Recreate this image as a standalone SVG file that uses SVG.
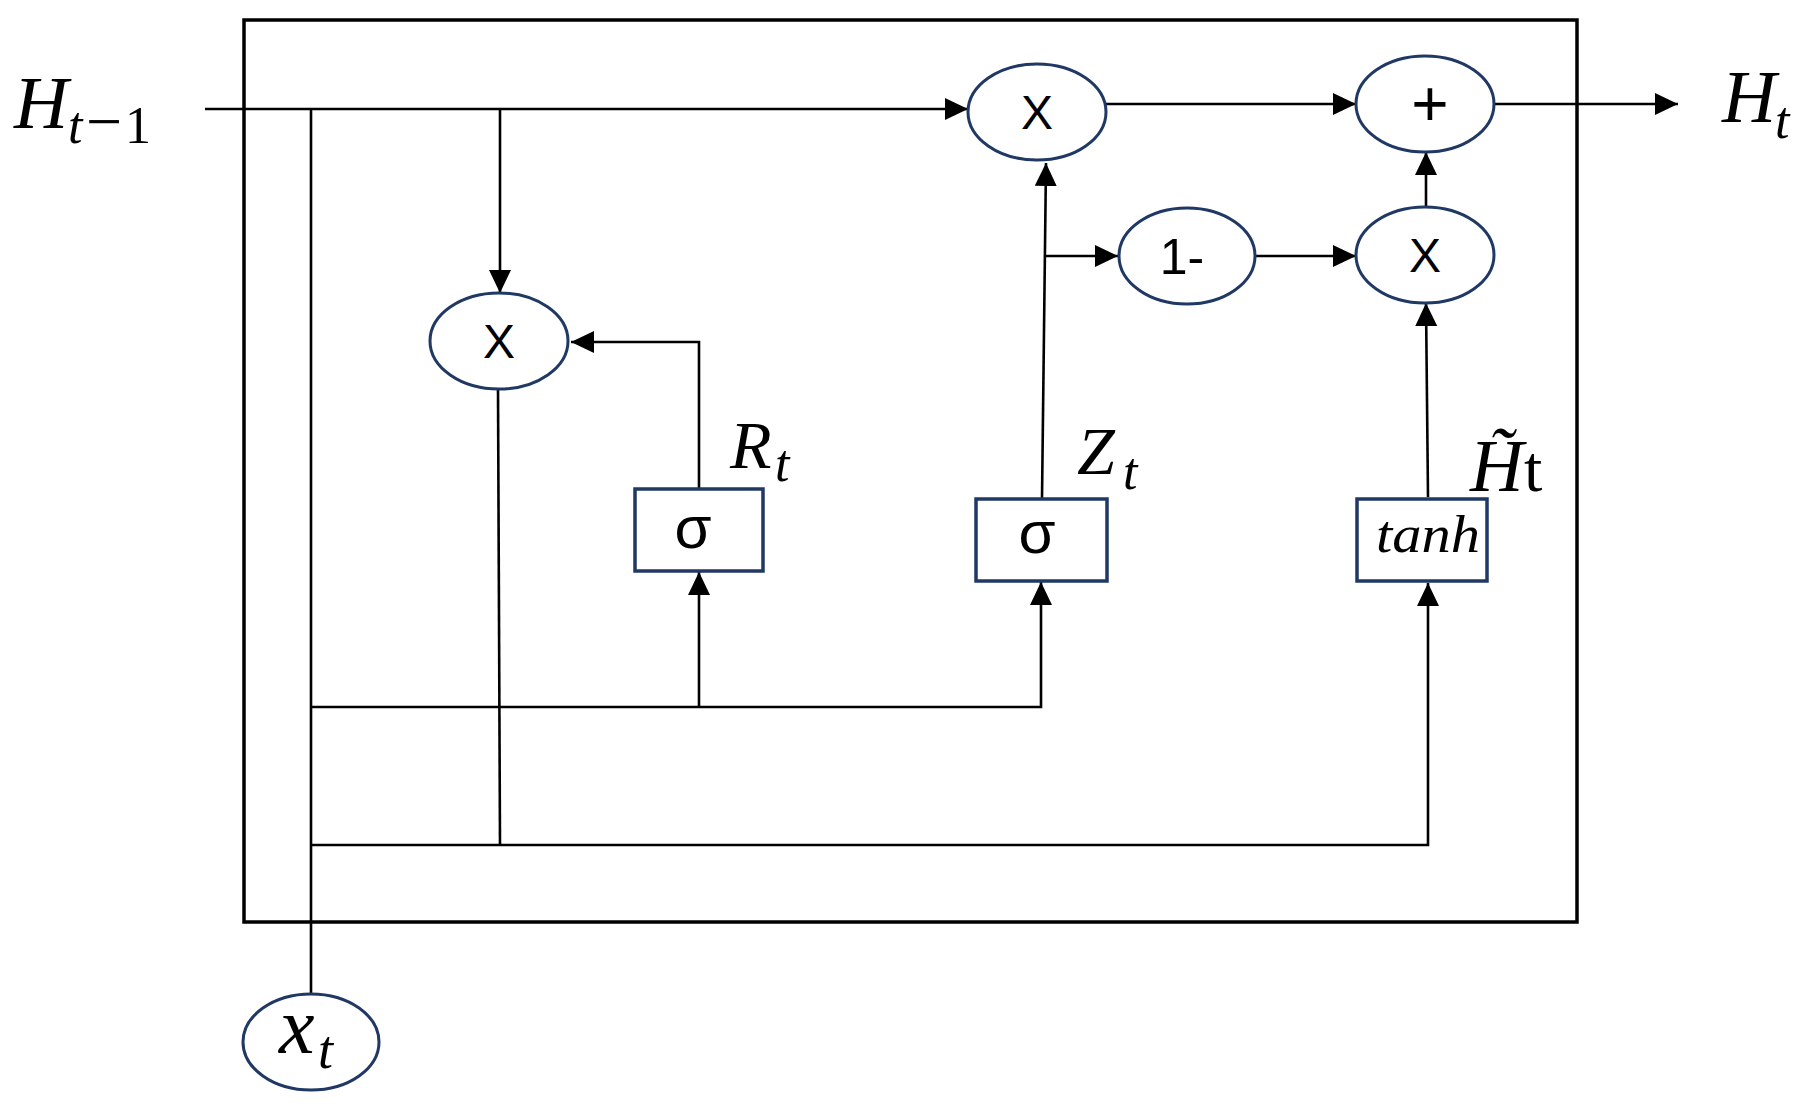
<svg xmlns="http://www.w3.org/2000/svg" width="1807" height="1104" viewBox="0 0 1807 1104">
<style>
.op{fill:#fff;stroke:#1f3864;stroke-width:3}
.bx{fill:#fff;stroke:#1f3864;stroke-width:3.5}
.ln{fill:none;stroke:#000;stroke-width:2.6}
.sym{font-family:"Liberation Sans","Noto Sans",sans-serif;fill:#000;text-anchor:middle}
.sig{font-family:"Liberation Sans","Noto Sans",sans-serif;font-size:60px;fill:#000;text-anchor:middle}
.math{font-family:"Liberation Serif","DejaVu Serif",serif;font-style:italic;fill:#000}
.up{font-family:"Liberation Serif","DejaVu Serif",serif;font-style:normal;fill:#000}
</style>
<defs>
<marker id="ar" markerUnits="userSpaceOnUse" markerWidth="26" markerHeight="24" refX="23" refY="11" orient="auto">
<path d="M0,0 L23,11 L0,22 Z" fill="#000"/>
</marker>
</defs>
<rect id="frame" x="244" y="20" width="1333" height="902" fill="none" stroke="#000" stroke-width="3.5"/>
<g id="connectors">
<path class="ln" d="M205,109 L968,109" marker-end="url(#ar)"/>
<path class="ln" d="M1106,104 L1356,104" marker-end="url(#ar)"/>
<path class="ln" d="M1494,104 L1678,104" marker-end="url(#ar)"/>
<path class="ln" d="M311,109 L311,993"/>
<path class="ln" d="M500,109 L500,293" marker-end="url(#ar)"/>
<path class="ln" d="M699,489 L699,342 L571,342" marker-end="url(#ar)"/>
<path class="ln" d="M498,389 L500,845"/>
<path class="ln" d="M1042,499 L1046,163" marker-end="url(#ar)"/>
<path class="ln" d="M1044,256 L1118,256" marker-end="url(#ar)"/>
<path class="ln" d="M1255,256 L1356,256" marker-end="url(#ar)"/>
<path class="ln" d="M1426,207 L1426,152" marker-end="url(#ar)"/>
<path class="ln" d="M1428,497 L1426,303" marker-end="url(#ar)"/>
<path class="ln" d="M311,707 L1041,707 L1041,582" marker-end="url(#ar)"/>
<path class="ln" d="M699,707 L699,572" marker-end="url(#ar)"/>
<path class="ln" d="M311,845 L1428,845 L1428,583" marker-end="url(#ar)"/>
</g>
<g id="mul_top">
<ellipse class="op" cx="1037" cy="112" rx="69" ry="48"/>
<text class="sym" x="1037" y="129" style="font-size:48px">X</text>
</g>
<g id="add">
<ellipse class="op" cx="1425" cy="104" rx="69" ry="48"/>
<text class="sym" x="1430" y="126" style="font-size:64px">+</text>
</g>
<g id="one_minus">
<ellipse class="op" cx="1187" cy="256" rx="68" ry="48"/>
<text class="sym" x="1182" y="274" style="font-size:50px">1-</text>
</g>
<g id="mul_right">
<ellipse class="op" cx="1425" cy="255" rx="69" ry="48"/>
<text class="sym" x="1425" y="272" style="font-size:48px">X</text>
</g>
<g id="mul_left">
<ellipse class="op" cx="499" cy="341" rx="69" ry="48"/>
<text class="sym" x="499" y="358" style="font-size:48px">X</text>
</g>
<g id="sigma_r">
<rect class="bx" x="635" y="489" width="128" height="82"/>
<text class="sig" x="693" y="548">σ</text>
</g>
<g id="sigma_z">
<rect class="bx" x="976" y="499" width="131" height="82"/>
<text class="sig" x="1037" y="553">σ</text>
</g>
<g id="tanh">
<rect class="bx" x="1357" y="499" width="130" height="82"/>
<text class="math" x="1376" y="552" font-size="52" textLength="104" lengthAdjust="spacingAndGlyphs">tanh</text>
</g>
<g id="xt">
<ellipse class="op" cx="311" cy="1042" rx="68" ry="48"/>
<text class="math" x="279" y="1053" font-size="80">x</text>
<text class="math" x="318" y="1068" font-size="54">t</text>
</g>
<g id="labels">
<text class="math" x="14" y="128" font-size="75">H</text>
<text class="math" x="68" y="143" font-size="52">t<tspan class="up" x="86" font-size="64">−</tspan><tspan class="up" x="125">1</tspan></text>
<text class="math" x="730" y="468" font-size="68">R</text>
<text class="math" x="775" y="481" font-size="52">t</text>
<text class="math" x="1077" y="474" font-size="68">Z</text>
<text class="math" x="1123" y="489" font-size="52">t</text>
<text class="math" x="1470" y="491" font-size="74">H̃<tspan class="up" x="1524" font-size="66">t</tspan></text>
<text class="math" x="1722" y="122" font-size="75">H</text>
<text class="math" x="1775" y="138" font-size="52">t</text>
</g>
</svg>
